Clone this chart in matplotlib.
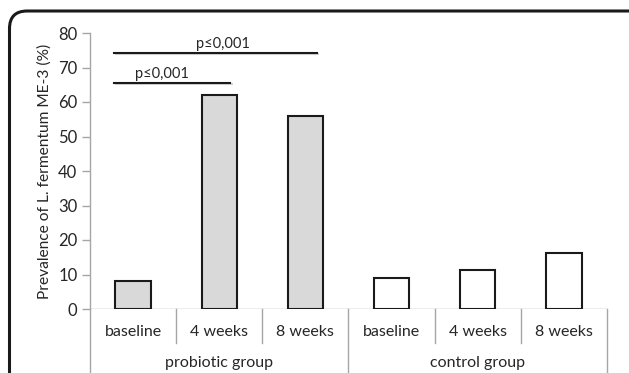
import matplotlib
matplotlib.use("Agg")
import matplotlib.pyplot as plt
import matplotlib.patheffects as pe
from matplotlib.patches import FancyBboxPatch
import matplotlib.transforms as mtransforms

categories = ["baseline", "4 weeks", "8 weeks", "baseline", "4 weeks", "8 weeks"]
groups = ["probiotic group", "control group"]
probiotic_values = [8.1, 62.0, 56.0]
control_values = [9.0, 11.2, 16.1]
yticks = [0, 10, 20, 30, 40, 50, 60, 70, 80]
sig_label = "p≤0,001"
# significance brackets: (x start, x end, y level)
sig_lines = [(-0.22, 2.13, 74.3), (-0.22, 1.13, 65.6)]
sig_text_x = [1.04, 0.34]

plt.rcParams['font.family'] = ['Lato', 'DejaVu Sans']

W, H = 629, 373
fig = plt.figure(figsize=(W / 100, H / 100), dpi=100)

# rounded frame
frame = FancyBboxPatch((9.5 / W, -0.2), (W + 10) / W, 1.2 - 11 / H,
                       boxstyle="round,pad=0,rounding_size=0.028",
                       transform=fig.transFigure, fill=False,
                       edgecolor="#1a1a1a", linewidth=2.2, mutation_aspect=W / H)
fig.patches.append(frame)

ax = fig.add_axes([90 / W, 1 - 309 / H, (607 - 90) / W, (309 - 33) / H])
ax.set_xlim(-0.5, 5.5)
ax.set_ylim(0, 80)

bw = 0.41
xs_p = list(range(len(probiotic_values)))
xs_c = [i + len(probiotic_values) for i in range(len(control_values))]
ax.bar(xs_p, probiotic_values, width=bw, color="#d9d9d9", edgecolor="#1a1a1a", linewidth=1.5, zorder=3)
ax.bar(xs_c, control_values, width=bw, color="white", edgecolor="#1a1a1a", linewidth=1.5, zorder=3)

gray = "#a6a6a6"
for s in ["top", "right", "bottom"]:
    ax.spines[s].set_visible(False)
ax.spines["left"].set_color(gray)
ax.spines["left"].set_linewidth(1)
ax.set_yticks(yticks)
ax.tick_params(axis="y", colors=gray, length=6, width=1, labelsize=12, labelcolor="#262626", pad=3)
ax.set_xticks([])
ax.axhline(0, color=gray, linewidth=1, zorder=2)

ax.set_ylabel("Prevalence of L. fermentum ME-3 (%)", fontsize=11.2, color="#262626", labelpad=5)

# category axis with separators
trans = mtransforms.blended_transform_factory(ax.transData, ax.transAxes)
px = 1 / (309 - 33)  # axes fraction per pixel
n = len(categories)
for i in range(n + 1):
    xb = i - 0.5
    is_group = (i % 3 == 0)
    y_end = -(373 - 309) * px if is_group else -34 * px
    ax.plot([xb, xb], [0, y_end], transform=trans, color=gray, linewidth=1, clip_on=False)
for i, c in enumerate(categories):
    ax.text(i, -23 * px, c, transform=trans, ha="center", va="center", fontsize=11.5, color="#262626")
for g, name in enumerate(groups):
    ax.text(g * 3 + 1, -54 * px, name, transform=trans, ha="center", va="center", fontsize=11.5, color="#262626")

# significance lines
effects = [pe.SimpleLineShadow(offset=(1.2, -1.2), shadow_color="gray", alpha=0.35), pe.Normal()]
for (x0, x1, y), tx in zip(sig_lines, sig_text_x):
    ax.plot([x0, x1], [y, y], color="#1a1a1a", linewidth=1.5, path_effects=effects, clip_on=False, zorder=4)
    ax.text(tx, y + 0.6, sig_label, ha="center", va="bottom", fontsize=10.5, color="#262626")

fig.savefig("out.png", dpi=100)
